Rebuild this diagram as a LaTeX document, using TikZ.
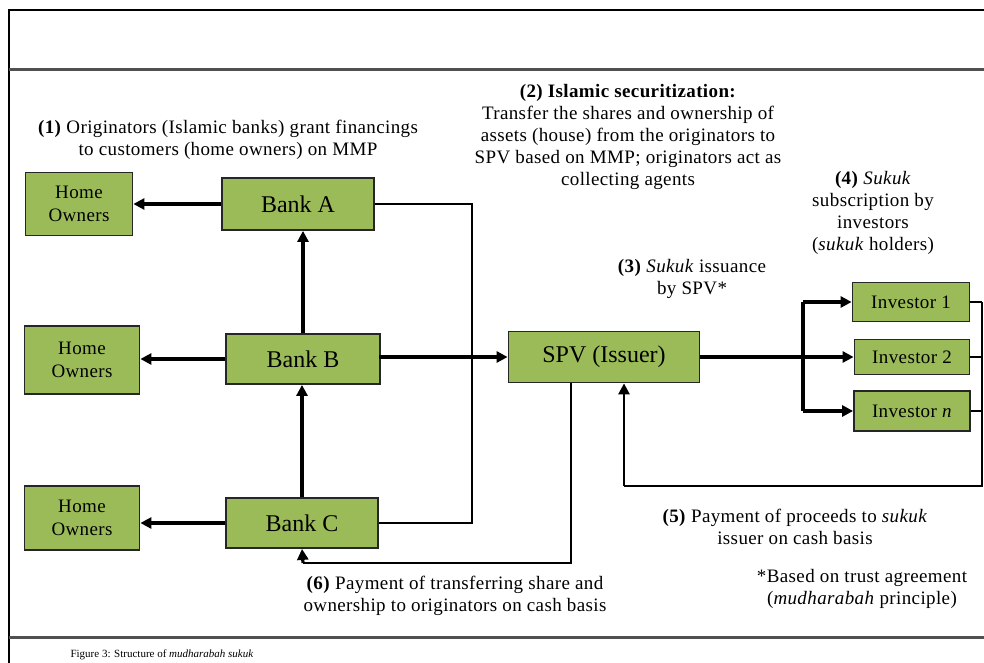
\documentclass[tikz,border=0pt]{standalone}
\usepackage{fontspec}
\setmainfont{Liberation Serif}
\newfontfamily\widefont[LetterSpace=2]{Liberation Serif}
\usetikzlibrary{arrows.meta}
\definecolor{boxgreen}{HTML}{9BBB59}
\definecolor{rulegray}{HTML}{505050}
\begin{document}
\begin{tikzpicture}[x=1pt,y=-1pt,
  box/.style={draw=black!85,line width=1.8pt,fill=boxgreen,align=center,inner sep=0pt},
  bigtext/.style={font=\fontsize{24}{26}\selectfont},
  smalltext/.style={font=\widefont\fontsize{19}{23}\selectfont},
  flow/.style={line width=3.2pt,-{Triangle[length=11pt,width=11pt]}},
  trunk/.style={line width=3.2pt},
  link/.style={line width=1.5pt},
  note/.style={align=center,font=\widefont\fontsize{19}{22}\selectfont}]

% page frame
\useasboundingbox (0,0) rectangle (984,663);
\draw[line width=2.5pt] (9,663) -- (9,10) -- (984,10);
\draw[rulegray,line width=3pt] (9,70) -- (984,70);
\draw[rulegray,line width=3pt] (9,637) -- (984,637);

% home owners
\node[box,smalltext,minimum width=107,minimum height=63] (ho1) at (79,204) {Home\\Owners};
\node[box,smalltext,minimum width=115,minimum height=68] (ho2) at (82,360) {Home\\Owners};
\node[box,smalltext,minimum width=115,minimum height=64] (ho3) at (82,518) {Home\\Owners};

% originating banks
\node[box,bigtext,minimum width=152,minimum height=52] (bA) at (298,204) {Bank A};
\node[box,bigtext,minimum width=154,minimum height=50] (bB) at (303,359) {Bank B};
\node[box,bigtext,minimum width=152,minimum height=50] (bC) at (302,523) {Bank C};

% issuer
\node[box,bigtext,minimum width=191,minimum height=51] (spv) at (604,357) {SPV (Issuer)};

% investors
\node[box,smalltext,minimum width=117,minimum height=39] (inv1) at (911,302) {Investor 1};
\node[box,smalltext,minimum width=115,minimum height=35] (inv2) at (912,357) {Investor 2};
\node[box,smalltext,minimum width=116,minimum height=40] (invn) at (912,411) {Investor \textit{n}};

% helper points
\coordinate (jab) at (472,0);
\coordinate (fork) at (803,0);
\coordinate (rx) at (982,0);
\coordinate (ret) at (624,486);
\coordinate (p6) at (571,563);
\coordinate (p6end) at (303,563);

% financing to home owners
\draw[flow] (bA.west) -- (bA.west -| ho1.east);
\draw[flow] (bB.west) -- (bB.west -| ho2.east);
\draw[flow] (bC.west) -- (bC.west -| ho3.east);

% banks pooling upward
\draw[flow] (bB.north) -- (bB.north |- bA.south);
\draw[flow] (bC.north) -- (bC.north |- bB.south);

% bracket joining Bank A and Bank C
\draw[link] (bA.east) -- (bA.east -| jab) |- (bC.east);

% securitization to SPV
\draw[flow] (bB.east) -- (bB.east |- spv.west) -- (spv.west);

% sukuk issuance to investors
\draw[flow] (spv.east) -- (spv.east -| inv2.west);
\draw[trunk] (fork |- inv1.west) -- (fork |- invn.west);
\draw[flow] (fork |- inv1.west) -- (inv1.west);
\draw[flow] (fork |- invn.west) -- (invn.west);

% proceeds back to the issuer
\draw[link] (inv1.east) -- (inv1.east -| rx);
\draw[link] (inv2.east) -- (inv2.east -| rx);
\draw[link] (invn.east) -- (invn.east -| rx);
\draw[link] (inv1.east -| rx) -- (rx |- ret) -- (ret);
\draw[line width=2.6pt,-{Triangle[length=11pt,width=11pt]}] (ret) -- (ret |- spv.south);

% payment back to originators
\draw[link] (spv.south -| p6) -- (p6) -- (p6end);
\draw[flow] (p6end) -- (bC.south);

% annotations
\node[note] (n1) at (228,140) {\textbf{(1)} Originators (Islamic banks) grant financings\\to customers (home owners) on MMP};
\node[note] (n2) at (628,137) {\textbf{(2) Islamic securitization:}\\Transfer the shares and ownership of\\assets (house) from the originators to\\SPV based on MMP; originators act as\\collecting agents};
\node[note] (n4) at (873,213) {\textbf{(4)} \textit{Sukuk}\\subscription by\\investors\\(\textit{sukuk} holders)};
\node[note] (n3) at (692,279) {\textbf{(3)} \textit{Sukuk} issuance\\by SPV*};
\node[note] (n5) at (795,527) {\textbf{(5)} Payment of proceeds to \textit{sukuk}\\issuer on cash basis};
\node[note] (nstar) at (862,589) {*Based on trust agreement\\(\textit{mudharabah} principle)};
\node[note] (n6) at (455,596) {\textbf{(6)} Payment of transferring share and\\ownership to originators on cash basis};

% caption
\node[anchor=west,font=\fontsize{11}{13}\selectfont] (cap) at (67,655) {Figure 3: Structure of \textit{mudharabah sukuk}};
\end{tikzpicture}
\end{document}
